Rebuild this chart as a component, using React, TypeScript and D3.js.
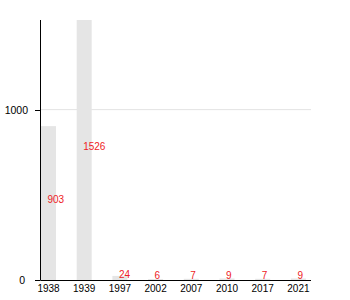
import React from "react";
import * as d3 from "d3";

const categories = ["1938", "1939", "1997", "2002", "2007", "2010", "2017", "2021"];
const values = [903, 1526, 24, 6, 7, 9, 7, 9];
const yTicks = [0, 1000];

export default function App() {
  const W = 350, H = 300;
  const left = 40.5, top = 20, bottom = 280, axisRight = 311;
  const step = 35.7;
  const x = d3.scaleBand<string>().domain(categories).range([41, 41 + step * categories.length]).padding(0);
  const barW = 15;
  const y = d3.scaleLinear().domain([0, d3.max(values) as number]).range([bottom, top]);
  const font = "'Liberation Sans', Arial, sans-serif";
  return (
    <svg width={W} height={H} style={{ position: "absolute", left: 0, top: 0, background: "#fff" }} fontFamily={font}>
      {yTicks.filter((t) => t > 0).map((t) => (
        <line key={"g" + t} x1={left} x2={axisRight} y1={y(t)} y2={y(t)} stroke="#e3e3e3" strokeWidth={1} />
      ))}
      {categories.map((c, i) => (
        <rect key={c} x={x(c)!} y={y(values[i])} width={barW} height={bottom - y(values[i])} fill="#e5e5e5" />
      ))}
      <line x1={left} x2={left} y1={top} y2={bottom} stroke="#000" strokeWidth={1} />
      <line x1={left} x2={axisRight} y1={bottom + 0.5} y2={bottom + 0.5} stroke="#000" strokeWidth={1} />
      {yTicks.map((t) => (
        <g key={"t" + t}>
          <line x1={35} x2={left} y1={Math.round(y(t)) + 0.5} y2={Math.round(y(t)) + 0.5} stroke="#000" />
          <text x={t === 0 ? 25 : 28} y={y(t)} textAnchor="end" dominantBaseline="central" fontSize={10.5} fill="#000">{t}</text>
        </g>
      ))}
      {categories.map((c) => (
        <text key={"x" + c} x={x(c)! + barW / 2} y={288} textAnchor="middle" dominantBaseline="central" fontSize={10} fill="#000">{c}</text>
      ))}
      {categories.map((c, i) => (
        <text key={"v" + c} x={x(c)! + barW / 2 - 1} y={y(values[i] / 2)} textAnchor="start" fontSize={10} fill="#ee1c25">{values[i]}</text>
      ))}
    </svg>
  );
}
